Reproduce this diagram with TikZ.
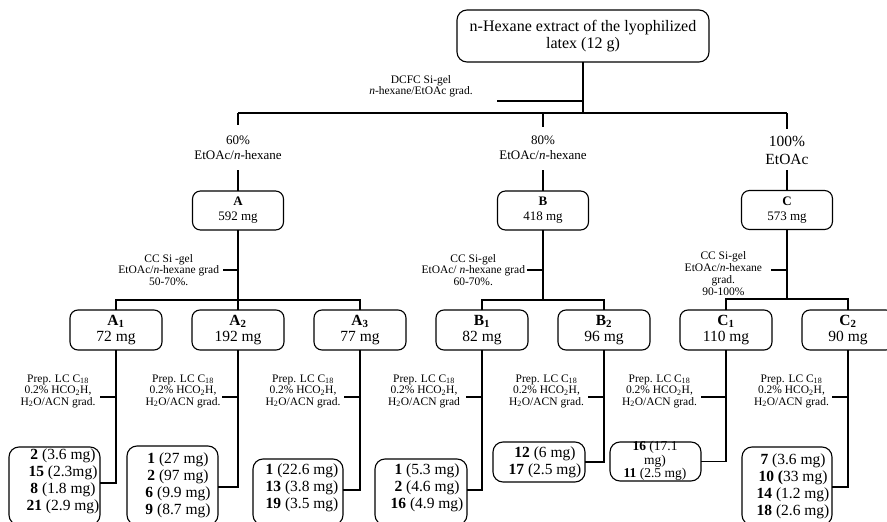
\documentclass[tikz,border=0pt]{standalone}
\usepackage{fontspec}
\setmainfont{Liberation Serif}
\usetikzlibrary{calc}
\newcommand\myfs[2]{\fontsize{#1}{#2}\selectfont}
\begin{document}
\begin{tikzpicture}[x=1pt,y=-1pt,
  every node/.style={inner sep=0pt, outer sep=0pt},
  ln/.style={line width=1.1pt, draw=black},
  box/.style={draw=black, line width=1.1pt, rounded corners=8pt, minimum width=91pt},
  lvbox/.style={box, minimum width=92pt, minimum height=40pt, font=\myfs{15.5}{16}, align=center},
  rbox/.style={draw=black, line width=1.1pt, rounded corners=10pt},
  rtext/.style={font=\myfs{15.5}{17}, align=center},
  cond/.style={font=\myfs{11.5}{11.5}, align=center},
  pct/.style={font=\myfs{13}{15}, align=center}
]
\useasboundingbox (0,0) rectangle (887,522);
\clip (0,0) rectangle (887,522);
\fill[white] (0,0) rectangle (887,522);

% top
\node[box, rounded corners=10pt, minimum width=252pt, minimum height=52pt, font=\myfs{16}{17}, align=center] (top) at (583,36) {n-Hexane extract of the lyophilized\\latex (12 g)};
\coordinate (j0) at (583,113);
\coordinate (d0) at (497,101);
\draw[ln] (top.south) -- (j0);
\draw[ln] (d0) -- (d0 -| top.south);
\node[cond, font=\myfs{11.5}{11}] (dcfc) at (421,86.5) {DCFC Si-gel\\\textit{n}-hexane/EtOAc grad.};

\coordinate (jA) at (238,113);
\coordinate (jB) at (543,113);
\coordinate (jC) at (787,113);
\draw[ln] (jA) -- (jC);

% fraction labels
\node[pct] (pA) at (238,148) {60\%\\EtOAc/\textit{n}-hexane};
\node[pct] (pB) at (543,148) {80\%\\EtOAc/\textit{n}-hexane};
\node[pct, font=\myfs{15.5}{18}] (pC) at (787,150) {100\%\\EtOAc};
\coordinate (pA1) at (238,125); \coordinate (pA2) at (238,170);
\coordinate (pB1) at (543,127); \coordinate (pB2) at (543,170);
\coordinate (pC1) at (787,129); \coordinate (pC2) at (787,170);

% first level boxes
\node[box, minimum height=39pt, font=\myfs{13}{15}, align=center] (A) at (238,210.5) {\textbf{A}\\592 mg};
\node[box, minimum height=39pt, font=\myfs{13}{15}, align=center] (B) at (543,210.5) {\textbf{B}\\418 mg};
\node[box, minimum height=39pt, font=\myfs{13}{15}, align=center] (C) at (787,210) {\textbf{C}\\573 mg};

\draw[ln] (jA) -- (pA1); \draw[ln] (pA2) -- (A.north);
\draw[ln] (jB) -- (pB1); \draw[ln] (pB2) -- (B.north);
\draw[ln] (jC) -- (pC1); \draw[ln] (pC2) -- (C.north);

% CC labels
\node[cond, anchor=east] (ccA) at (219,270) {CC Si -gel\\EtOAc/\textit{n}-hexane grad\\50-70\%.};
\node[cond, anchor=east] (ccB) at (525,270) {CC Si-gel\\EtOAc/ \textit{n}-hexane grad\\60-70\%.};
\node[cond, font=\myfs{11.5}{12}, anchor=east] (ccC) at (762,273.5) {CC Si-gel\\EtOAc/\textit{n}-hexane\\grad.\\90-100\%};
\coordinate (cA) at (223,270);
\coordinate (cB) at (527,270);
\coordinate (cC) at (771,270);
\draw[ln] (cA) -- (cA -| A.south);
\draw[ln] (cB) -- (cB -| B.south);
\draw[ln] (cC) -- (cC -| C.south);

% second level boxes
\node[lvbox] (A1) at (116,330) {\textbf{A\textsubscript{1}}\\72 mg};
\node[lvbox] (A2) at (238,330) {\textbf{A\textsubscript{2}}\\192 mg};
\node[lvbox] (A3) at (360,330) {\textbf{A\textsubscript{3}}\\77 mg};
\node[lvbox] (B1) at (482,330) {\textbf{B\textsubscript{1}}\\82 mg};
\node[lvbox] (B2) at (604,330) {\textbf{B\textsubscript{2}}\\96 mg};
\node[lvbox] (C1) at (726,330) {\textbf{C\textsubscript{1}}\\110 mg};
\node[lvbox] (C2) at (848,330) {\textbf{C\textsubscript{2}}\\90 mg};

% bars
\coordinate (bA) at (0,300);
\coordinate (bC) at (0,299);
\draw[ln] (A.south) -- (A2.north);
\draw[ln] (A1.north) -- (A1.north |- bA) -- (A3.north |- bA) -- (A3.north);
\draw[ln] (B.south) -- (B.south |- bA);
\draw[ln] (B1.north) -- (B1.north |- bA) -- (B2.north |- bA) -- (B2.north);
\draw[ln] (C.south) -- (C.south |- bC);
\draw[ln] (C1.north) -- (C1.north |- bC) -- (C2.north |- bC) -- (C2.north);

% prep labels
\newcommand\preplab{Prep. LC C\textsubscript{18}\\0.2\% HCO\textsubscript{2}H,\\H\textsubscript{2}O/ACN grad.}
\node[cond] (qA1) at (58,391) {\preplab};
\node[cond] (qA2) at (183,391) {\preplab};
\node[cond] (qA3) at (303,391) {\preplab};
\node[cond] (qB1) at (424,391) {Prep. LC C\textsubscript{18}\\0.2\% HCO\textsubscript{2}H,\\H\textsubscript{2}O/ACN grad};
\node[cond] (qB2) at (546.5,391) {\preplab};
\node[cond] (qC1) at (659.5,391) {\preplab};
\node[cond] (qC2) at (791.5,391) {\preplab};
\coordinate (sA1) at (100,397);
\coordinate (sA2) at (222,397);
\coordinate (sA3) at (344,397);
\coordinate (sB1) at (466,397);
\coordinate (sB2) at (588,397);
\coordinate (sC1) at (701,397);
\coordinate (sC2) at (832,397);
\draw[ln] (sA1) -- (sA1 -| A1.south);
\draw[ln] (sA2) -- (sA2 -| A2.south);
\draw[ln] (sA3) -- (sA3 -| A3.south);
\draw[ln] (sB1) -- (sB1 -| B1.south);
\draw[ln] (sB2) -- (sB2 -| B2.south);
\draw[ln] (sC1) -- (sC1 -| C1.south);
\draw[ln] (sC2) -- (sC2 -| C2.south);

% result boxes
\node[rbox, minimum width=91pt, minimum height=78pt] (A1r) at (54.5,486) {};
\node[rbox, minimum width=91pt, minimum height=79pt] (A2r) at (172.5,485.5) {};
\node[rbox, minimum width=90pt, minimum height=66pt] (A3r) at (298,492) {};
\node[rbox, minimum width=92pt, minimum height=66pt] (B1r) at (421,492) {};
\node[rbox, minimum width=92pt, minimum height=40pt] (B2r) at (539,462) {};
\node[rbox, minimum width=91pt, minimum height=39pt] (C1r) at (655.5,461.5) {};
\node[rbox, minimum width=90pt, minimum height=78pt] (C2r) at (787,486) {};

\node[rtext] (A1t) at (63,481) {\textbf{2} (3.6 mg)\\\textbf{15} (2.3mg)\\\textbf{8} (1.8 mg)\\\textbf{21} (2.9 mg)};
\node[rtext] (A2t) at (178,485.5) {\textbf{1} (27 mg)\\\textbf{2} (97 mg)\\\textbf{6} (9.9 mg)\\\textbf{9} (8.7 mg)};
\node[rtext] (A3t) at (302,487.5) {\textbf{1} (22.6 mg)\\\textbf{13} (3.8 mg)\\\textbf{19} (3.5 mg)};
\node[rtext] (B1t) at (427,487.5) {\textbf{1} (5.3 mg)\\\textbf{2} (4.6 mg)\\\textbf{16} (4.9 mg)};
\node[rtext] (B2t) at (545,462) {\textbf{12} (6 mg)\\\textbf{17} (2.5 mg)};
\node[rtext, font=\myfs{13.5}{13.5}] (C1t) at (655,461) {\textbf{16} (17.1\\mg)\\\textbf{11} (2.5 mg)};
\node[rtext] (C2t) at (793,486.5) {\textbf{7} (3.6 mg)\\\textbf{10 (}33 mg)\\\textbf{14} (1.2 mg)\\\textbf{18} (2.6 mg)};

% connectors to results
\draw[ln] (A1.south) |- ($(A1r.north east)+(0,36)$);
\draw[ln] (A2.south) |- ($(A2r.north east)+(0,41)$);
\draw[ln] (A3.south) |- ($(A3r.north east)+(0,31)$);
\draw[ln] (B1.south) |- ($(B1r.north east)+(0,31)$);
\draw[ln] (B2.south) |- (B2r.east);
\draw[ln] (C1.south) |- (C1r.east);
\draw[ln] (C2.south) |- ($(C2r.north east)+(0,40)$);
\end{tikzpicture}
\end{document}
